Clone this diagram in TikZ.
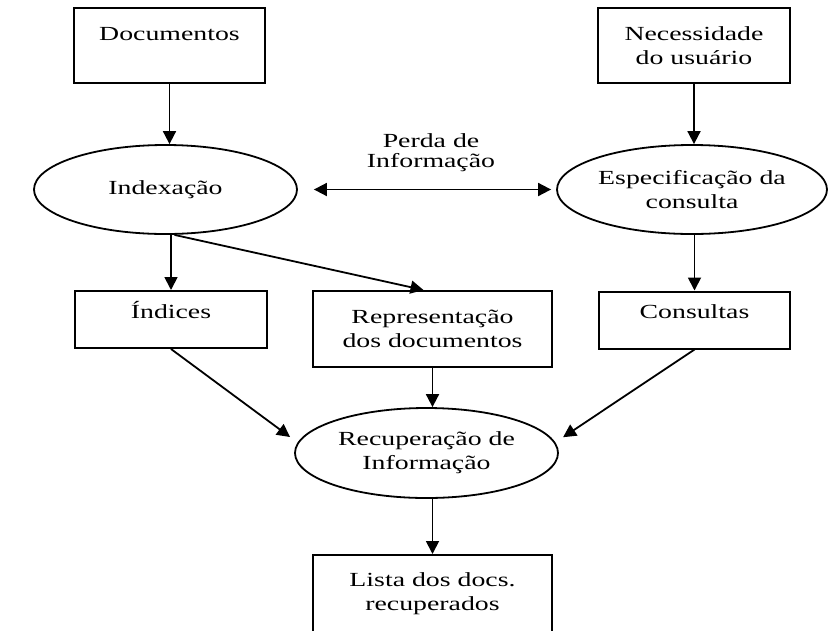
\documentclass[tikz,border=0pt]{standalone}
\usepackage{fontspec}
\setmainfont{Liberation Serif}[FakeStretch=1.39]
\usetikzlibrary{arrows.meta,shapes.geometric}

\tikzset{
  caixa/.style={draw, rectangle, line width=2pt, inner sep=0pt, align=center},
  elipse/.style={draw, ellipse, line width=1.8pt, inner sep=0pt, align=center},
  seta/.style={line width=1.8pt, -{Triangle[length=13pt,width=13pt]}},
  seta dupla/.style={line width=1.8pt, {Triangle[length=13pt,width=13pt]}-{Triangle[length=13pt,width=13pt]}}
}

\begin{document}
\begin{tikzpicture}[x=1pt,y=-1pt,font=\fontsize{20}{24}\selectfont]
\useasboundingbox (0,0) rectangle (835,630);

%Shape: Rectangle [Documentos]
\node [caixa, minimum width=191pt, minimum height=75pt] (doc) at (169.5,45.5) {Documentos\\\mbox{}};
%Shape: Rectangle [Necessidade]
\node [caixa, minimum width=192pt, minimum height=75pt] (nec) at (694,45.5) {Necessidade\\do usuário};

%Shape: Ellipse [Indexacao]
\node [elipse, minimum width=263pt, minimum height=89pt] (idx) at (165.5,189.5) {Indexação};
%Shape: Ellipse [Especificacao]
\node [elipse, minimum width=270pt, minimum height=89pt] (esp) at (692,189.5) {Especificação da\\consulta};

% Text Node
\node [align=center, font=\fontsize{20}{20}\selectfont] (perda) at (431,153) {Perda de\\Informação};

%Shape: Rectangle [Indices]
\node [caixa, minimum width=192pt, text height=14pt, text depth=17pt, inner ysep=13pt] (ind) at (171,319.5) {Índices};
%Shape: Rectangle [Representacao]
\node [caixa, minimum width=239pt, minimum height=76pt] (rep) at (432.5,329) {Representação\\dos documentos};
%Shape: Rectangle [Consultas]
\node [caixa, minimum width=191pt, text height=14pt, text depth=17pt, inner ysep=13pt] (cons) at (694.5,320) {Consultas};

%Shape: Ellipse [Recuperacao]
\node [elipse, minimum width=263pt, minimum height=90pt] (rec) at (426.5,453) {Recuperação de\\Informação};

%Shape: Rectangle [Lista]
\node [caixa, minimum width=239pt, minimum height=78pt] (lista) at (432.5,594) {Lista dos docs.\\recuperados};

%Straight Lines
\draw [seta] (doc.south) -- (doc.south |- idx.north);
\draw [seta] (nec.south) -- (nec.south |- esp.north);
\draw [seta dupla, shorten <=16pt, shorten >=5pt] (idx.east) -- (esp.west);
\draw [seta] (ind.north |- idx.south) -- (ind.north);
\draw [seta] ([xshift=9pt]idx.south) -- ([xshift=-9pt]rep.north);
\draw [seta] (cons.north |- esp.south) -- (cons.north);
\draw [seta, shorten >=5pt] (ind.south) -- ([yshift=13pt]rec.west);
\draw [seta] (rep.south) -- (rep.south |- rec.north);
\draw [seta, shorten >=5pt] (cons.south) -- ([yshift=13pt]rec.east);
\draw [seta] (lista.north |- rec.south) -- (lista.north);

\end{tikzpicture}
\end{document}
